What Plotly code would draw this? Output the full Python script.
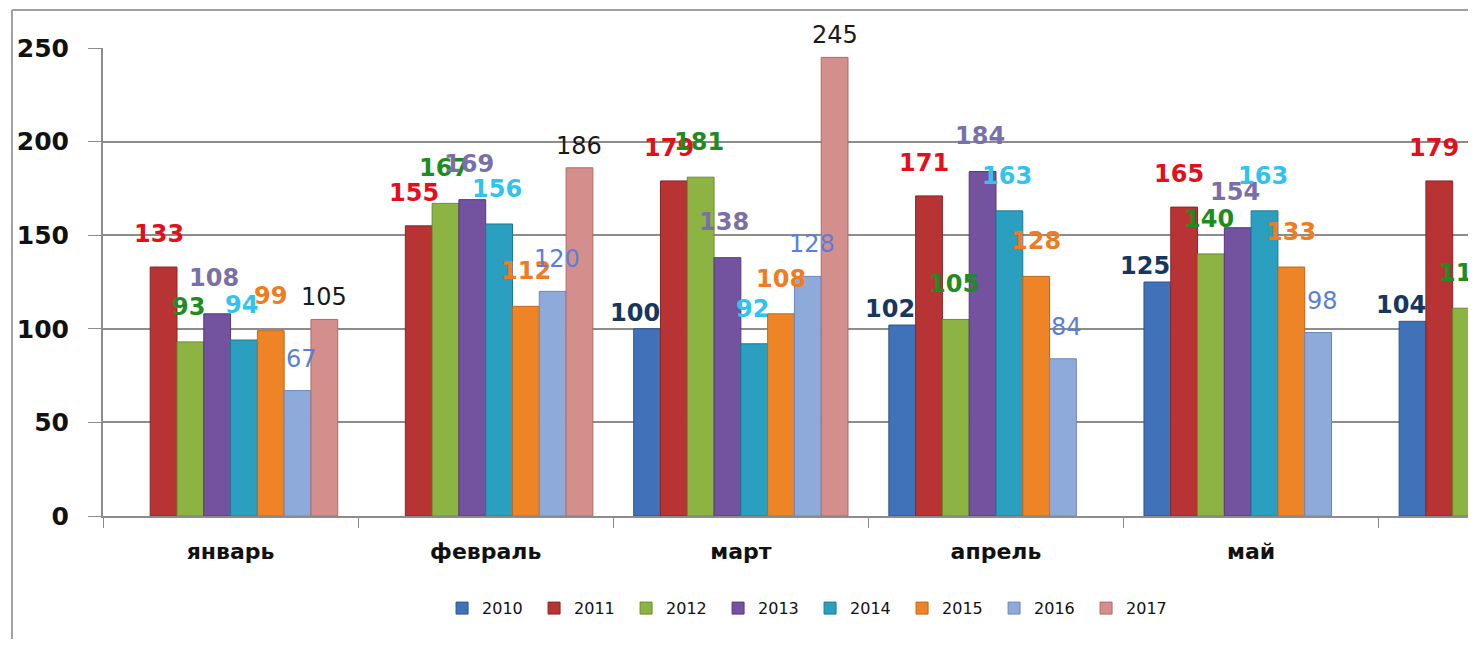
import plotly.graph_objects as go

months = ["январь", "февраль", "март", "апрель", "май", "июнь"]
years = ["2010", "2011", "2012", "2013", "2014", "2015", "2016", "2017"]

v2010 = [None, None, 100, 102, 125, 104]
v2011 = [133, 155, 179, 171, 165, 179]
v2012 = [93, 167, 181, 105, 140, 111]
v2013 = [108, 169, 138, 184, 154, 188]
v2014 = [94, 156, 92, 163, 163, None]
v2015 = [99, 112, 108, 128, 133, None]
v2016 = [67, 120, 128, 84, 98, None]
v2017 = [105, 186, 245, None, None, None]

series = [v2010, v2011, v2012, v2013, v2014, v2015, v2016, v2017]

bar_colors = ["#3f72b8", "#b83434", "#8db443", "#7352a0", "#2b9fbf",
              "#ee8426", "#8eaadb", "#d48e8c"]
line_colors = ["#2c5590", "#8c2424", "#6a8c2c", "#55397c", "#1d7a94",
               "#c0661a", "#6c88bb", "#ad6b6a"]
label_colors = ["#17375e", "#e3101b", "#1e8c1e", "#7a70a8", "#2ec4ee",
                "#f07c22", "#5b7fd6", "#1a1a1a"]
label_bold = [True, True, True, True, True, True, False, False]
label_dx = [-12, -5, -2, -3, -2, 0, 4, 0]
label_dy = [16, 33, 35, 36, 35, 35, 32, 22]

bargap = 0.16
n = len(years)
w = (1 - bargap) / n

fig = go.Figure()
for j, (yr, vals) in enumerate(zip(years, series)):
    fig.add_trace(go.Bar(
        name=yr, x=months, y=vals,
        marker=dict(color=bar_colors[j], line=dict(color=line_colors[j], width=1)),
    ))
    for i, v in enumerate(vals):
        if v is None:
            continue
        xc = i - (1 - bargap) / 2 + (j + 0.5) * w
        txt = f"<b>{v}</b>" if label_bold[j] else f"{v}"
        fig.add_annotation(
            x=xc, y=v, text=txt, showarrow=False,
            xshift=label_dx[j], yshift=label_dy[j],
            font=dict(family="DejaVu Sans", size=24, color=label_colors[j]),
        )

# frame of the original picture
fig.add_shape(type="line", xref="paper", yref="paper",
              x0=-0.0667, x1=-0.0667, y0=1.081, y1=-0.3,
              line=dict(color="#a0a0a0", width=2))
fig.add_shape(type="line", xref="paper", yref="paper",
              x0=-0.0667, x1=1.0, y0=1.081, y1=1.081,
              line=dict(color="#a0a0a0", width=2))

fig.update_layout(
    width=1460, height=631,
    margin=dict(l=95, r=0, t=40, b=123),
    paper_bgcolor="white", plot_bgcolor="white",
    barmode="group", bargap=bargap, bargroupgap=0,
    showlegend=True,
    legend=dict(orientation="h", x=0.518, xanchor="center", y=-0.197, yanchor="middle",
                font=dict(family="DejaVu Sans", size=16, color="#111"),
                entrywidth=47, entrywidthmode="pixels", itemwidth=30,
                traceorder="normal"),
    font=dict(family="DejaVu Sans"),
)
fig.update_xaxes(
    type="category", range=[-0.5, 4.85],
    tickson="boundaries", ticks="outside", ticklen=10, tickcolor="#8c8c8c",
    showline=True, linecolor="#8c8c8c", linewidth=2,
    showgrid=False,
    tickfont=dict(family="DejaVu Sans", size=22, color="#111", weight="bold"),
    ticklabelstandoff=15,
)
fig.update_yaxes(
    range=[0, 250], tickvals=[0, 50, 100, 150, 200, 250],
    ticktext=["<b>0</b>", "<b>50</b>", "<b>100</b>", "<b>150</b>", "<b>200</b>", "<b>250</b>"],
    ticks="outside", ticklen=13, tickcolor="#8c8c8c",
    showline=True, linecolor="#8c8c8c", linewidth=2,
    showgrid=True, gridcolor="#8c8c8c", gridwidth=2,
    zeroline=False,
    tickfont=dict(family="DejaVu Sans", size=25, color="#111"),
    ticklabelstandoff=14,
)

fig.write_html("out.html")
